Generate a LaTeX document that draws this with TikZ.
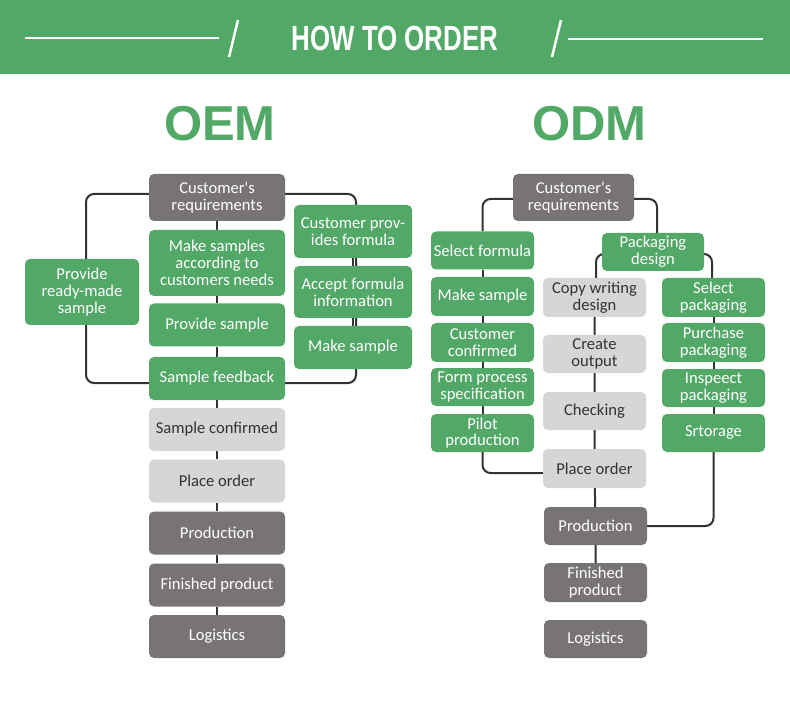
\documentclass[tikz,border=0pt]{standalone}
\usepackage{fontspec}
\setmainfont{Carlito}[Ligatures=TeXOff]
\newfontfamily\titlefont{Liberation Sans}
\usetikzlibrary{backgrounds}
\definecolor{hgreen}{HTML}{52A866}
\definecolor{bgreen}{HTML}{52A866}
\definecolor{dgray}{HTML}{787475}
\definecolor{lgray}{HTML}{D6D5D7}
\definecolor{ltext}{HTML}{333333}
\definecolor{conncol}{HTML}{333333}
\tikzset{
  box/.style={rounded corners=5pt, align=center, inner sep=0pt,
    font=\fontsize{16.6}{16.8}\selectfont},
  gbox/.style={box, fill=bgreen, text=white},
  dbox/.style={box, fill=dgray, text=white},
  lbox/.style={box, fill=lgray, text=ltext},
  conn/.style={draw=conncol, line width=2pt, rounded corners=8pt},
  hline/.style={draw=white, line width=2.5pt},
}
\begin{document}
\begin{tikzpicture}[x=1pt,y=-1pt]
\useasboundingbox (0,0) rectangle (790,703);
\begin{scope}[on background layer]
\fill[white] (0,0) rectangle (790,703);
\end{scope}
% header
\fill[hgreen] (0,0) rectangle (790,74);
\coordinate (hl1) at (25,38);
\coordinate (hl2) at (219,38);
\coordinate (hs1a) at (238,20);
\coordinate (hs1b) at (229,57);
\coordinate (hs2a) at (561,20);
\coordinate (hs2b) at (552,57);
\coordinate (hr1) at (568,39);
\coordinate (hr2) at (763,39);
\draw[hline] (hl1) -- (hl2);
\draw[hline] (hs1a) -- (hs1b);
\draw[hline] (hs2a) -- (hs2b);
\draw[hline] (hr1) -- (hr2);
\node[text=white, font=\titlefont\bfseries\fontsize{35}{35}\selectfont, xscale=0.74, inner sep=0pt] (title) at (395,38) {HOW TO ORDER};
% section titles
\node[text=bgreen, font=\titlefont\bfseries\fontsize{49}{49}\selectfont, inner sep=0pt] (oem) at (220,124) {OEM};
\node[text=bgreen, font=\titlefont\bfseries\fontsize{49}{49}\selectfont, inner sep=0pt] (odm) at (589.5,124) {ODM};
% ---------------- OEM ----------------
\node[dbox, minimum width=136pt, minimum height=47pt] (c1) at (217,197.5) {Customer's\\requirements};
\node[gbox, minimum width=136pt, minimum height=66pt] (m1) at (217,263) {Make samples\\according to\\customers needs};
\node[gbox, minimum width=136pt, minimum height=43pt] (p1) at (217,325) {Provide sample};
\node[gbox, minimum width=136pt, minimum height=43pt] (sf) at (217,378.5) {Sample feedback};
\node[lbox, minimum width=136pt, minimum height=43pt] (sc) at (217,429.5) {Sample confirmed};
\node[lbox, minimum width=136pt, minimum height=43pt] (po) at (217,481) {Place order};
\node[dbox, minimum width=136pt, minimum height=43pt] (prod) at (217,533) {Production};
\node[dbox, minimum width=136pt, minimum height=43pt] (fin) at (217,585) {Finished product};
\node[dbox, minimum width=136pt, minimum height=43pt] (log) at (217,636.5) {Logistics};
\node[gbox, minimum width=114pt, minimum height=66pt] (rm) at (82,292) {Provide\\ready-made\\sample};
\node[gbox, minimum width=118pt, minimum height=53pt] (cpf) at (353,231.5) {Customer prov-\\ides formula};
\node[gbox, minimum width=118pt, minimum height=52pt] (af) at (353,292) {Accept formula\\information};
\node[gbox, minimum width=118pt, minimum height=43pt] (ms) at (353,347.5) {Make sample};
\coordinate (lx) at (86,0);
\coordinate (rx) at (356,0);
% ---------------- ODM ----------------
\node[dbox, minimum width=121pt, minimum height=47pt] (oc) at (573.5,197.5) {Customer's\\requirements};
\node[gbox, minimum width=103pt, minimum height=38pt] (sf2) at (482.5,250.5) {Select formula};
\node[gbox, minimum width=103pt, minimum height=39pt] (ms2) at (482.5,296.5) {Make sample};
\node[gbox, minimum width=103pt, minimum height=39pt] (cc) at (482.5,342.5) {Customer\\confirmed};
\node[gbox, minimum width=103pt, minimum height=38pt] (fp) at (482.5,387) {Form process\\specification};
\node[gbox, minimum width=103pt, minimum height=38pt] (pp) at (482.5,433) {Pilot\\production};
\node[gbox, minimum width=102pt, minimum height=38pt] (pd) at (653,252) {Packaging\\design};
\node[lbox, minimum width=103pt, minimum height=39pt] (cw) at (594.5,297.5) {Copy writing\\design};
\node[lbox, minimum width=103pt, minimum height=38pt] (co) at (594.5,354) {Create\\output};
\node[lbox, minimum width=103pt, minimum height=38pt] (ch) at (594.5,411) {Checking};
\node[lbox, minimum width=103pt, minimum height=39pt] (po2) at (594.5,468.5) {Place order};
\node[dbox, minimum width=103pt, minimum height=38pt] (prod2) at (595.5,526) {Production};
\node[dbox, minimum width=103pt, minimum height=39pt] (fin2) at (595.5,582.5) {Finished\\product};
\node[dbox, minimum width=103pt, minimum height=38pt] (log2) at (595.5,639) {Logistics};
\node[gbox, minimum width=103pt, minimum height=39pt] (sp) at (713.5,297.5) {Select\\packaging};
\node[gbox, minimum width=103pt, minimum height=39pt] (pu) at (713.5,342.5) {Purchase\\packaging};
\node[gbox, minimum width=103pt, minimum height=38pt] (ip) at (713.5,388) {Inspeect\\packaging};
\node[gbox, minimum width=103pt, minimum height=38pt] (st) at (713.5,433) {Srtorage};
% ---------------- connectors ----------------
\begin{scope}[on background layer]
\draw[conn] (c1) -- (m1) -- (p1) -- (sf) -- (sc) -- (po) -- (prod) -- (fin) -- (log);
\draw[conn] ([yshift=3.5pt]c1.west) -| (lx |- rm) |- ([yshift=-4.5pt]sf.west);
\draw[conn] ([yshift=3.5pt]c1.east) -| (rx |- af) |- ([yshift=-4.5pt]sf.east);
\draw[conn] (cpf) -- (af) -- (ms);
% ODM
\draw[conn] ([yshift=-1.5pt]oc.west) -| (sf2.north);
\draw[conn] ([yshift=-1.5pt]oc.east) -| ([xshift=4pt]pd.north);
\draw[conn] (sf2) -- (ms2) -- (cc) -- (fp) -- (pp);
\draw[conn] (pp) |- ([yshift=-4.5pt]po2.west);
\draw[conn] ([yshift=-2pt]pd.west) -| ([xshift=1.5pt]cw.north);
\draw[conn] ([yshift=-2pt]pd.east) -| ([xshift=-1.5pt]sp.north);
\draw[conn] (cw) -- (co) -- (ch) -- (po2) -- (prod2) -- (fin2);
\draw[conn] (sp) -- (pu) -- (ip) -- (st);
\draw[conn] (st) |- (prod2.east);
\end{scope}
\end{tikzpicture}
\end{document}
